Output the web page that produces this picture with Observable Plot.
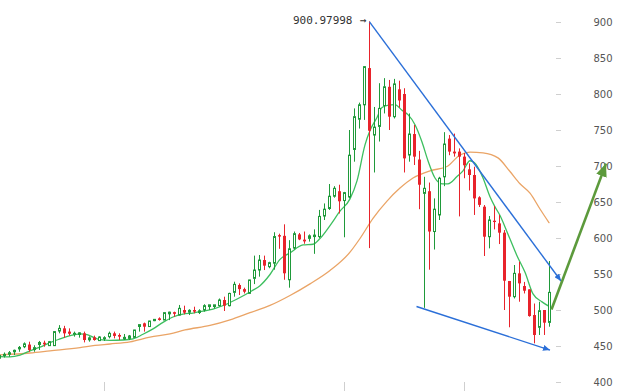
<!DOCTYPE html>
<html><head><meta charset="utf-8">
<script src="https://cdn.jsdelivr.net/npm/d3@7"></script>
<script src="https://cdn.jsdelivr.net/npm/@observablehq/plot@0.6"></script>
<style>
html,body{margin:0;padding:0;background:#fff;}
#chart svg{display:block;}
</style></head><body><div id="chart"></div>
<script>
// Candles (index 0..110)
const open  = [433,436.6,438.5,442,446,449,452,445,452.8,454.6,450.5,450.5,470.8,474.5,470,466.2,466.7,467.6,459.3,462,
  457.5,460,463,467.6,465.3,459.7,460.6,462,477.8,481.5,477,485.2,488.4,486.1,495.4,496.3,493,500,497,500,
  497.2,500,505.5,505.5,506,513.9,506,524.5,534.7,529,523.1,544,555.5,569.4,560.2,565,604,603,542,586,
  605,597,599.5,602,602,630.5,641,658,665,652,657,723,765,785,836,743,755,784,810,768.5,
  806.5,800,715.3,744.4,709,662,665,609,632,685,738,720,720,713,695.4,687.5,656.5,643.5,601.8,624,
  620.3,607.4,540.3,518.5,550.9,533.3,528.7,493,476,500,482.8];
const high  = [439,441,443,445,450,455,456,451,457,457.4,457,470.5,479,478,474.5,470,469,470,463.4,464.4,
  463.5,463.5,470,470,467.6,466.7,465.3,472.5,479.5,482.5,485,487.5,489.8,496.5,497.7,497.7,507,506,501,504.6,
  501,508,507,507,516,518.5,524,539.3,537,531,542,575.5,576.4,575.5,567,608,606,619,597,609,
  607,609,605,612,639,648,675,672,674,664,750,780,788,838.5,900.97998,782,815,822,819.5,821,
  818.5,808,773,757,721,685,677,655,685,747,743,745,724.5,718,703.7,699,658,645.8,630.5,644.4,
  632,611,540.3,562.5,567,539,528.7,509,511.5,500,568];
const low   = [431,434,435,437.5,442,447,442,442,444.5,449,450,450,467.6,461.6,464.4,463,461.6,455,456,457.4,
  457,457,460.6,460.6,458.3,458.3,458.3,461.5,470,470,476.5,484.5,485.2,486,486,490.7,492.5,494,493,495.4,
  494.4,497.7,500,502,504.6,498.6,505,518.5,520.8,523,522.5,536,546.3,555.5,558,556,585,542,531,584,
  597,592,595,578,600,625,639,656,634,601,655,706,752,764,586,691,734,773,750,766,
  781,691,706,701.4,640,503,556,584,625,672,715,713,630,683,666,632,643,575,585.6,612,
  591.6,500,476,516,511.5,523,490.7,453.7,465.3,465.3,476.8];
const close = [437,438.4,440.7,444,448,453,444.5,447.7,454.2,452.3,456,470,474.5,467.6,467,467.6,467.6,458.3,460.6,458.3,
  462.5,461.5,467.6,464,463,462,463.9,472.2,479,476.8,484.7,487,486.1,496.3,496.3,495.4,502.3,496.3,499.5,497.7,
  498.2,506,506.5,506.5,513.9,506,523,535.6,529,525.4,541.7,555.5,569.4,561.6,565.7,602,602,551,585,606,
  598,596,603,604,630,640,658,669,651,663,715,768.5,785,838,749,754,780,810,768.5,814,
  791,710.6,744.4,713,674,669,609,640,683,730.5,720,717.5,713,701,687.5,655,646,601.8,625,622.2,
  607.4,540.7,518.5,550.9,537,526.8,491.6,465.3,499,482.4,524.5];

// Fast moving average (green), read at candle positions
const fastIndex = [0.1,2.1,4.1,6.1,8.1,10.1,12.1,14.1,16.1,17.5,18.7,20.1,22.1,24.7,26.7,28.7,30.7,32.7,34.7,36.7,
  38.7,40.7,42.7,45.5,48.1,50.5,52.1,54.1,56.1,58.1,60.7,62.7,64.1,66.1,68.1,70.1,71.5,73.1,74.1,75.5,
  76.5,77.7,79.1,80.5,81.7,83.1,84.5,85.7,87.1,88.5,89.7,91.5,92.7,94.1,95.3,96.7,98.1,99.1,100.1,101.7,
  103.5,105.1,106.7,108.5,110.1];
const fastValue = [436,435.5,438,444,449,455.5,460.5,465,467.5,466.5,463,459.5,458.5,459,460.5,467,474.5,483.5,491,495,
  496.5,499,502,509,518,527.5,534.5,550,571,580,591,592,600,618,638,655,680,730,750,768,
  782,785,786,778,772,758,734,708,684,676,676,686,694,708,703,684,658,644,632,606,
  576,553,523,512,505];

// Slow moving average (orange)
const slowIndex = [0.1,6.1,10.1,16.1,19.1,22.1,26.1,30.1,34.1,37.1,42.1,46.1,50.1,54.1,58.1,62.1,66.1,70.1,72.1,74.7,
  77.5,80.1,82.7,86.1,89.5,92.1,94.1,96.7,99.7,102.1,104.1,106.1,108.1,109.9];
const slowValue = [438.5,441,444,448.5,451.5,453.5,456.5,463,467.6,473,479.2,487,497,507,520.8,537,555.5,581,600,628,
  652,670,684,694,700,716,720,719,712,693,676,663,641,622];

// Annotations
const peakIndex = 74, peakValue = 900.97998, peakLabel = "900.97998";
const upperTrendIndex = [74, 112.3], upperTrendValue = [900.97998, 541];
const lowerTrendIndex = [83.4, 110.1], lowerTrendValue = [505.6, 445];
const targetIndex = [110.4, 121.3], targetValue = [501.4, 704];

// Axis ticks
const yTicks = [400,450,500,550,600,650,700,750,800,850,900];
const xTicks = [21, 69, 93];

const GREEN = "#1f9a3a", RED = "#e8232b";

const candles = open.map((o, i) => ({i, o, h: high[i], l: low[i], c: close[i], up: close[i] >= o}));
const fast = fastIndex.map((i, k) => ({i, v: fastValue[k]}));
const slow = slowIndex.map((i, k) => ({i, v: slowValue[k]}));
const seg = (xs, ys) => [{x1: xs[0], y1: ys[0], x2: xs[1], y2: ys[1]}];

function arrowHead(len, wid) {
  return (color) => {
    const m = d3.create("svg:marker")
      .attr("viewBox", `${-len} ${-wid/2} ${len} ${wid}`)
      .attr("markerWidth", len).attr("markerHeight", wid)
      .attr("markerUnits", "userSpaceOnUse")
      .attr("orient", "auto")
      .attr("fill", color).attr("stroke", "none");
    m.append("path").attr("d", `M${-len},${-wid/2}L0,0L${-len},${wid/2}Z`);
    return m.node();
  };
}

const bodyLo = d => Math.min(d.o, d.c) - (Math.abs(d.o - d.c) < 1.4 ? 0.7 : 0);
const bodyHi = d => Math.max(d.o, d.c) + (Math.abs(d.o - d.c) < 1.4 ? 0.7 : 0);

const chart = Plot.plot({
  width: 631,
  height: 391,
  marginTop: 22,
  marginBottom: 9,
  marginLeft: 0,
  marginRight: 76,
  style: {fontFamily: "DejaVu Sans", background: "#fff", overflow: "hidden"},
  x: {type: "linear", domain: [0, 110], range: [-1, 549]},
  y: {type: "linear", domain: [400, 900], range: [382, 22]},
  marks: [
    Plot.axisY({ticks: yTicks, anchor: "right", tickSize: 5, tickPadding: 33, stroke: "#cfcfcf",
      fill: "#555", fontSize: 10, fontFamily: "DejaVu Sans", label: null, tickFormat: d3.format("d")}),
    Plot.axisX({ticks: xTicks, anchor: "bottom", tickSize: 9, stroke: "#cfcfcf", tickFormat: () => "", label: null}),
    Plot.line(slow, {x: "i", y: "v", stroke: "#eaa466", strokeWidth: 1.3, curve: "monotone-x"}),
    Plot.line(fast, {x: "i", y: "v", stroke: "#3dbf5f", strokeWidth: 1.3, curve: "monotone-x"}),
    Plot.ruleX(candles, {x: "i", y1: "l", y2: "h", stroke: d => d.up ? GREEN : RED, strokeWidth: 1}),
    Plot.rect(candles.filter(d => d.up), {x1: d => d.i - 0.2, x2: d => d.i + 0.2, y1: bodyLo, y2: bodyHi,
      dx: 0.5, fill: "#fff", stroke: GREEN, strokeWidth: 1}),
    Plot.rect(candles.filter(d => !d.up), {x1: d => d.i - 0.3, x2: d => d.i + 0.3, y1: bodyLo, y2: bodyHi,
      dx: 0.5, fill: RED}),
    Plot.link(seg(upperTrendIndex, upperTrendValue), {x1: "x1", y1: "y1", x2: "x2", y2: "y2",
      stroke: "#2b6fd8", strokeWidth: 1.4, markerEnd: arrowHead(7, 6)}),
    Plot.link(seg(lowerTrendIndex, lowerTrendValue), {x1: "x1", y1: "y1", x2: "x2", y2: "y2",
      stroke: "#2b6fd8", strokeWidth: 1.4, markerEnd: arrowHead(7, 6)}),
    Plot.link(seg(targetIndex, targetValue), {x1: "x1", y1: "y1", x2: "x2", y2: "y2",
      stroke: "#5c9a3c", strokeWidth: 2.6, markerEnd: arrowHead(13, 11)}),
    Plot.text([peakLabel], {x: () => peakIndex, y: () => peakValue, text: d => d, textAnchor: "end",
      dx: -17, dy: -1, fontFamily: "DejaVu Sans Mono", fontSize: 11, fill: "#333"}),
    Plot.text(["→"], {x: () => peakIndex, y: () => peakValue, text: d => d, textAnchor: "end",
      dx: -3, dy: -1, fontFamily: "DejaVu Sans Mono", fontSize: 11, fill: "#333"})
  ]
});
document.getElementById("chart").appendChild(chart);
</script>
</body></html>
